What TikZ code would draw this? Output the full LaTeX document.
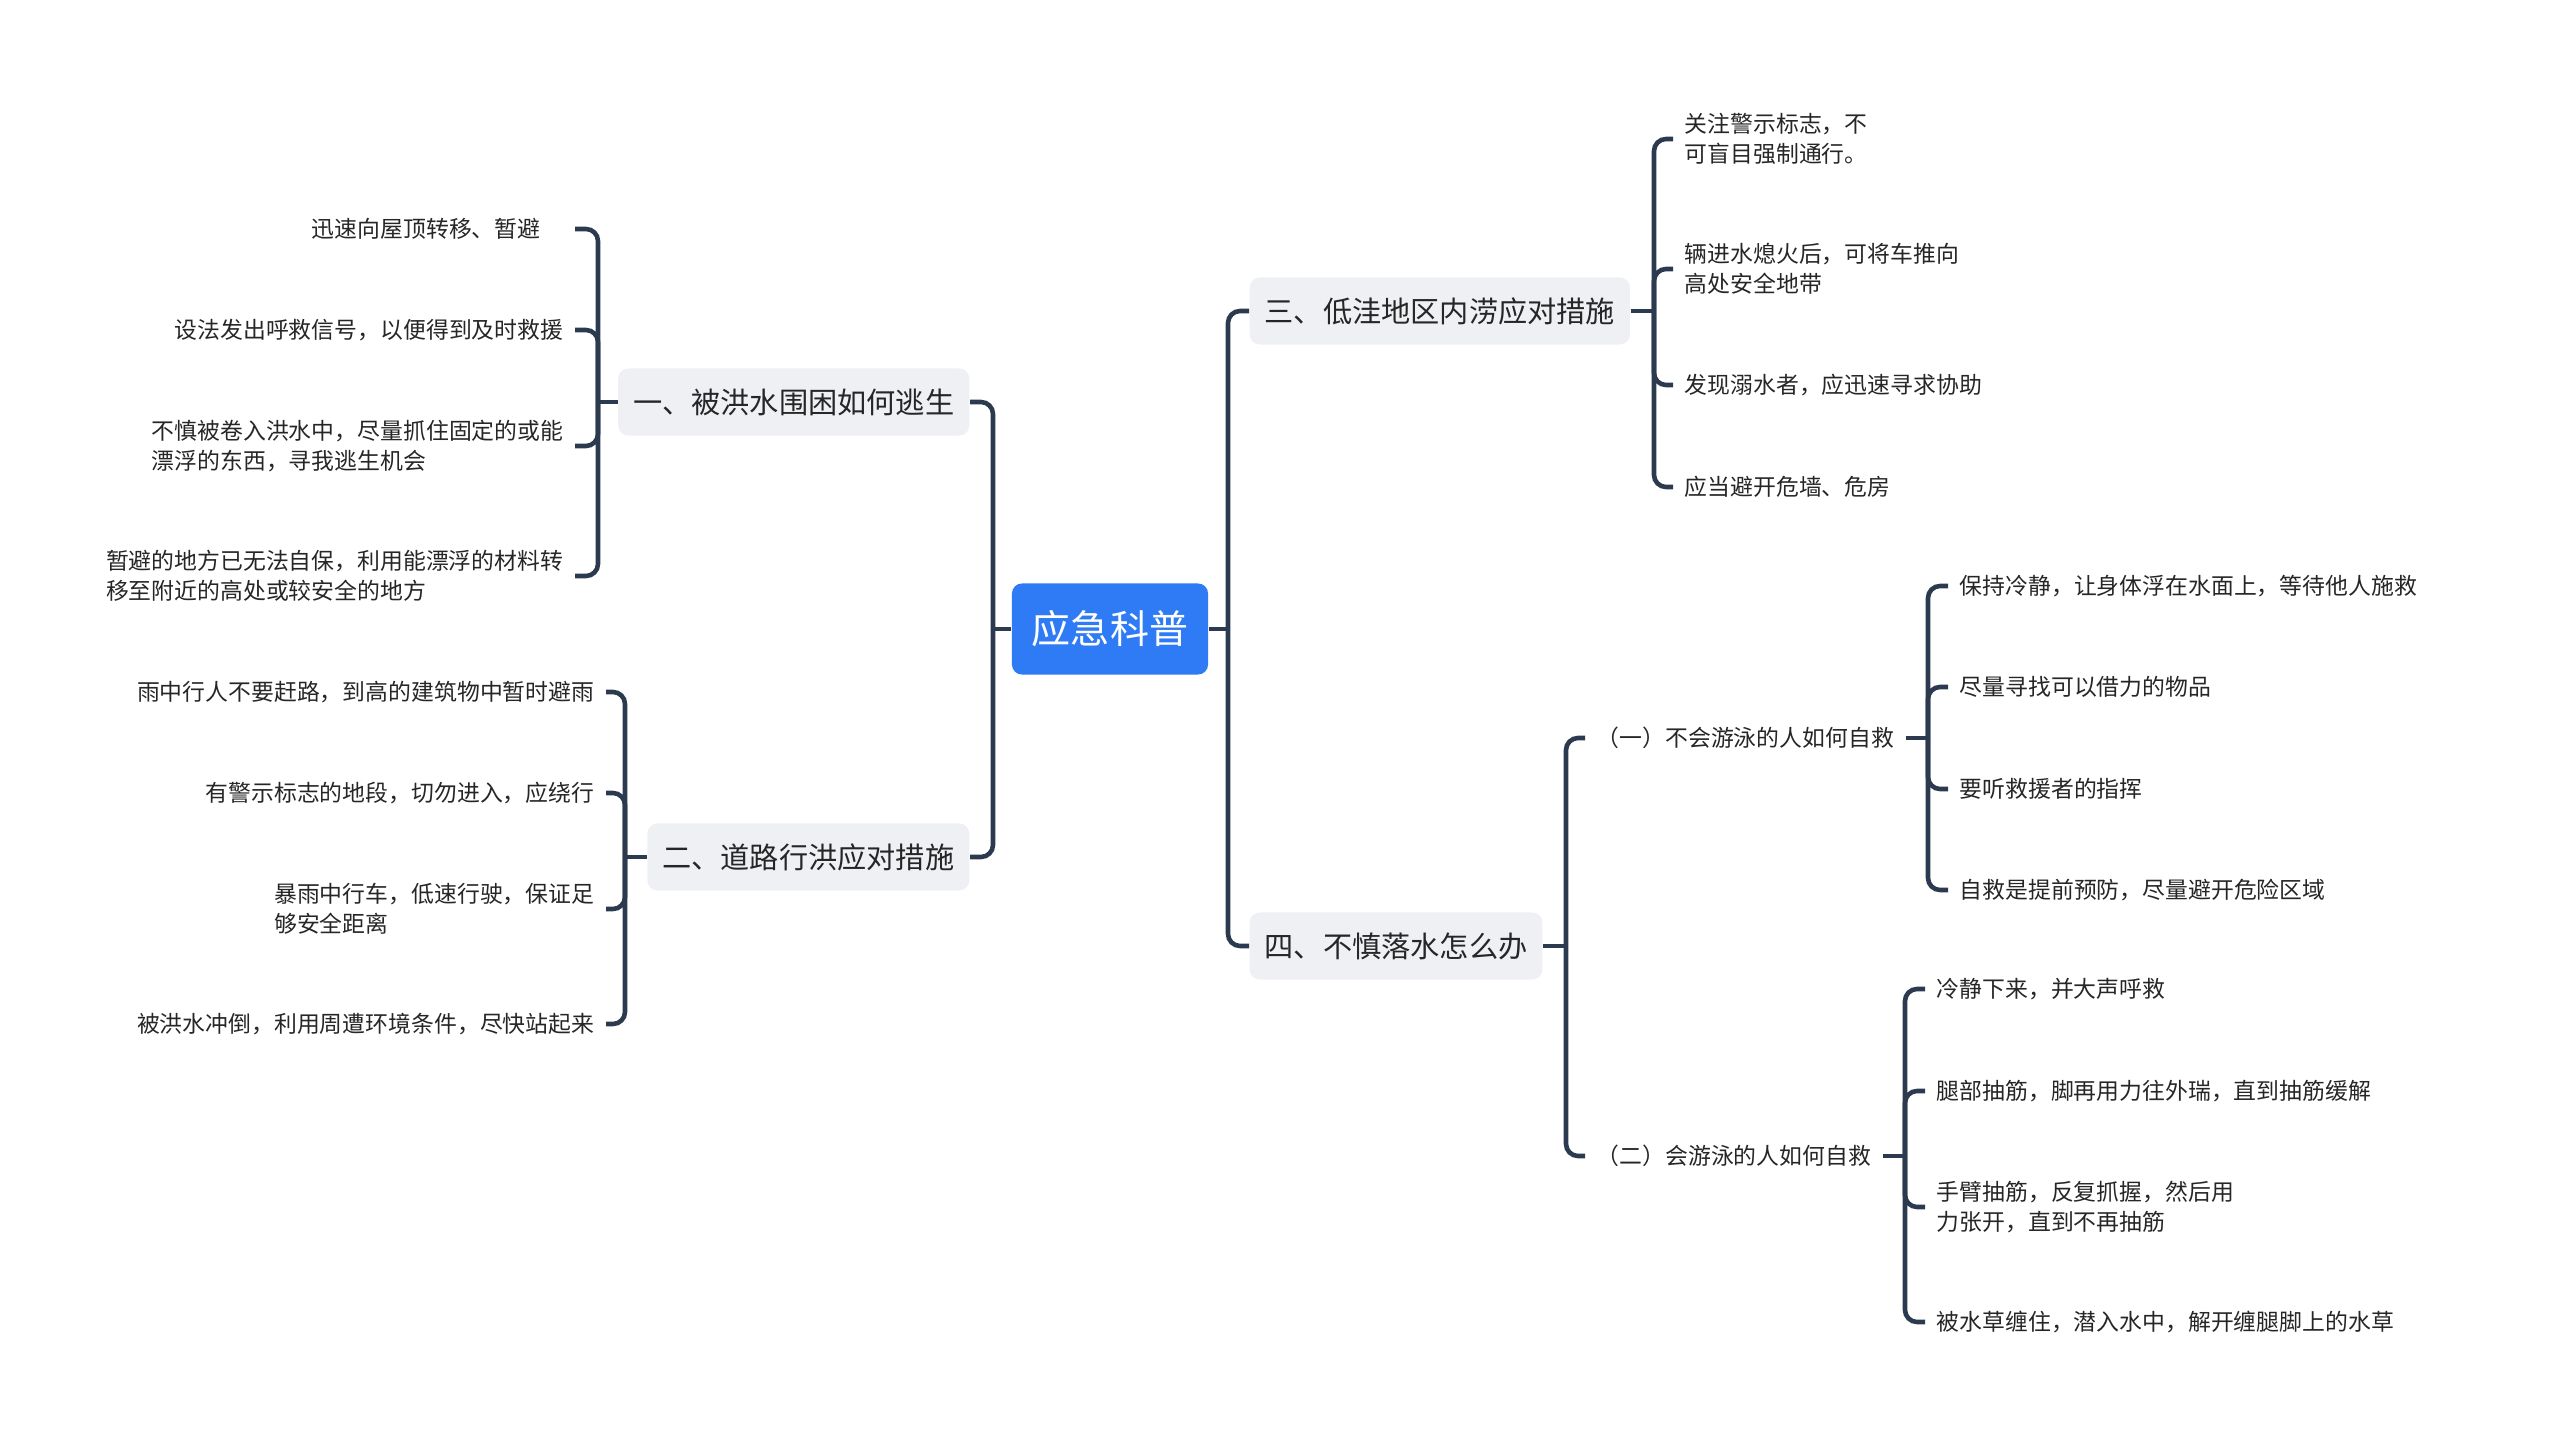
\documentclass[tikz,border=0pt]{standalone}
\usepackage{fontspec}
\setmainfont{Noto Sans CJK SC}
\definecolor{rootblue}{HTML}{2F7BF6}
\definecolor{boxgray}{HTML}{EEF0F4}
\definecolor{linknavy}{HTML}{2C3A50}
\definecolor{inkgray}{HTML}{262626}
\newcommand\rootfont{\fontsize{11.1pt}{13pt}\selectfont}
\newcommand\branchfont{\fontsize{8.3pt}{10pt}\selectfont}
\newcommand\leaffont{\fontsize{6.5pt}{8.4pt}\selectfont}
\tikzset{
  root/.style={fill=rootblue, text=white, rounded corners=0.1cm, minimum height=0.91cm, inner xsep=0.2cm, font=\rootfont},
  branch/.style={fill=boxgray, text=inkgray, rounded corners=0.1cm, minimum height=0.67cm, inner xsep=0.15cm, font=\branchfont},
  leaf/.style={text=inkgray, inner xsep=0.11cm, inner ysep=0.05cm, align=left, font=\leaffont},
  link/.style={draw=linknavy, line width=1.3pt, rounded corners=0.12cm},
}
\begin{document}
\begin{tikzpicture}[x=0.01cm,y=-0.01cm]
    \useasboundingbox (0,0) rectangle (2560,1446);
    % centre
    \node[root] (top) at (1110,629) {应急科普};
    % main branches
    \node[branch, anchor=east] (b1) at (970,402) {一、被洪水围困如何逃生};
    \node[branch, anchor=east] (b2) at (970,857) {二、道路行洪应对措施};
    \node[branch, anchor=west] (b3) at (1249,311) {三、低洼地区内涝应对措施};
    \node[branch, anchor=west] (b4) at (1249,946) {四、不慎落水怎么办};
    % left leaves
    \node[leaf, anchor=east] (b1a) at (575,229) {迅速向屋顶转移、暂避\hspace*{1em}};
    \node[leaf, anchor=east] (b1b) at (575,330) {设法发出呼救信号，以便得到及时救援};
    \node[leaf, anchor=east] (b1c) at (575,446) {不慎被卷入洪水中，尽量抓住固定的或能\\漂浮的东西，寻我逃生机会};
    \node[leaf, anchor=east] (b1d) at (575,576) {暂避的地方已无法自保，利用能漂浮的材料转\\移至附近的高处或较安全的地方};
    \node[leaf, anchor=east] (b2a) at (606,692) {雨中行人不要赶路，到高的建筑物中暂时避雨};
    \node[leaf, anchor=east] (b2b) at (606,793) {有警示标志的地段，切勿进入，应绕行};
    \node[leaf, anchor=east] (b2c) at (606,909) {暴雨中行车，低速行驶，保证足\\够安全距离};
    \node[leaf, anchor=east] (b2d) at (606,1024) {被洪水冲倒，利用周遭环境条件，尽快站起来};
    % right leaves
    \node[leaf, anchor=west] (b3a) at (1673,139) {关注警示标志，不\\可盲目强制通行。};
    \node[leaf, anchor=west] (b3b) at (1673,269) {辆进水熄火后，可将车推向\\高处安全地带};
    \node[leaf, anchor=west] (b3c) at (1673,385) {发现溺水者，应迅速寻求协助};
    \node[leaf, anchor=west] (b3d) at (1673,487) {应当避开危墙、危房};
    \node[leaf, anchor=west] (s1) at (1585,738) {（一）不会游泳的人如何自救};
    \node[leaf, anchor=west] (s2) at (1585,1156) {（二）会游泳的人如何自救};
    \node[leaf, anchor=west] (s1a) at (1948,586) {保持冷静，让身体浮在水面上，等待他人施救};
    \node[leaf, anchor=west] (s1b) at (1948,687) {尽量寻找可以借力的物品};
    \node[leaf, anchor=west] (s1c) at (1948,789) {要听救援者的指挥};
    \node[leaf, anchor=west] (s1d) at (1948,890) {自救是提前预防，尽量避开危险区域};
    \node[leaf, anchor=west] (s2a) at (1925,989) {冷静下来，并大声呼救};
    \node[leaf, anchor=west] (s2b) at (1925,1091) {腿部抽筋，脚再用力往外瑞，直到抽筋缓解};
    \node[leaf, anchor=west] (s2c) at (1925,1207) {手臂抽筋，反复抓握，然后用\\力张开，直到不再抽筋};
    \node[leaf, anchor=west] (s2d) at (1925,1322) {被水草缠住，潜入水中，解开缠腿脚上的水草};
    % junctions
    \coordinate (jl) at (993,629);
    \coordinate (jr) at (1228,629);
    \coordinate (j1) at (598,402);
    \coordinate (j2) at (625,857);
    \coordinate (j3) at (1654,311);
    \coordinate (j4) at (1566,946);
    \coordinate (k1) at (1928,738);
    \coordinate (k2) at (1905,1156);
    % connectors
    \draw[link] (top.west) -- (jl);
    \draw[link] (top.east) -- (jr);
    \foreach \n in {b1,b2} \draw[link] (jl) |- (\n.east);
    \foreach \n in {b3,b4} \draw[link] (jr) |- (\n.west);
    \draw[link] (b1.west) -- (j1);
    \foreach \n in {b1a,b1b,b1c,b1d} \draw[link] (j1) |- (\n.east);
    \draw[link] (b2.west) -- (j2);
    \foreach \n in {b2a,b2b,b2c,b2d} \draw[link] (j2) |- (\n.east);
    \draw[link] (b3.east) -- (j3);
    \foreach \n in {b3a,b3b,b3c,b3d} \draw[link] (j3) |- (\n.west);
    \draw[link] (b4.east) -- (j4);
    \foreach \n in {s1,s2} \draw[link] (j4) |- (\n.west);
    \draw[link] (s1.east) -- (k1);
    \foreach \n in {s1a,s1b,s1c,s1d} \draw[link] (k1) |- (\n.west);
    \draw[link] (s2.east) -- (k2);
    \foreach \n in {s2a,s2b,s2c,s2d} \draw[link] (k2) |- (\n.west);
\end{tikzpicture}
\end{document}
